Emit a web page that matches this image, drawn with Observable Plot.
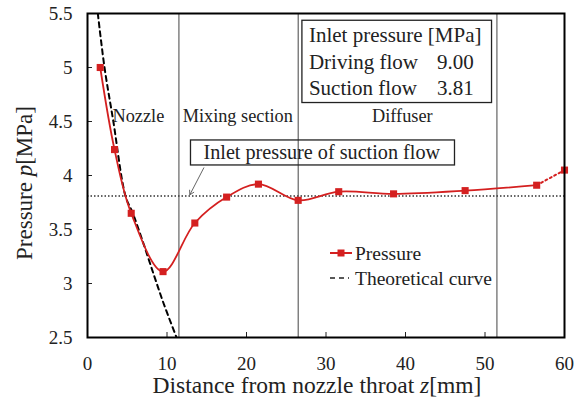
<!DOCTYPE html>
<html><head><meta charset="utf-8">
<script src="https://cdn.jsdelivr.net/npm/d3@7"></script>
<script src="https://cdn.jsdelivr.net/npm/@observablehq/plot@0.6"></script>
<style>body{margin:0;background:#fff} #chart{width:584px;height:398px}</style>
</head><body><div id="chart"></div>
<script>
// ---- data ----
const pressureZ = [1.6, 3.4, 5.5, 9.5, 13.5, 17.5, 21.5, 26.5, 31.6, 38.5, 47.5, 56.5];
const pressureP = [5.00, 4.24, 3.65, 3.11, 3.56, 3.80, 3.92, 3.77, 3.85, 3.83, 3.86, 3.91];
const extrapZ = [56.5, 60];
const extrapP = [3.91, 4.05];
const theoryZ = [1.3, 2.14, 3.23, 4.78, 5.7, 6.9, 8.3, 9.6, 11.2];
const theoryP = [5.5, 5.0, 4.51, 3.81, 3.65, 3.40, 3.09, 2.81, 2.5];
const xTicks = [0, 10, 20, 30, 40, 50, 60];
const yTicks = [2.5, 3, 3.5, 4, 4.5, 5, 5.5];
const yTickLabels = ["2.5", "3", "3.5", "4", "4.5", "5", "5.5"];
const sectionBounds = [11.5, 26.5, 51.5];
const sectionNames = ["Nozzle", "Mixing section", "Diffuser"];
const sectionLabelZ = [6.4, 18.9, 39.6];
const suctionInlet = 3.81;
const tableRows = ["Inlet pressure [MPa]", "Driving flow", "Suction flow"];
const tableValues = ["", "9.00", "3.81"];
const seriesNames = ["Pressure", "Theoretical curve"];

// ---- derived tables ----
const pressure = pressureZ.map((z, i) => ({z, p: pressureP[i]}));
const extrap = extrapZ.map((z, i) => ({z, p: extrapP[i]}));
const theory = theoryZ.map((z, i) => ({z, p: theoryP[i]}));

const red = "#d42020";
const font = "Liberation Serif";
const labelP = 4.545;
const tableZ = 27.85, tableValZ = 43.95;
const tableRowP = [5.296, 5.049, 4.812];

const plot = Plot.plot({
  width: 584, height: 398,
  marginLeft: 87, marginRight: 20, marginTop: 13, marginBottom: 61,
  style: {fontFamily: font, fontSize: "19px", color: "#222", background: "white", overflow: "visible"},
  x: {domain: [0, 60]},
  y: {domain: [2.5, 5.5]},
  marks: [
    Plot.ruleY([suctionInlet], {stroke: "#333", strokeWidth: 1.4, strokeDasharray: "1.5,2"}),
    Plot.ruleX(sectionBounds, {stroke: "#444", strokeWidth: 1}),
    Plot.line(theory, {x: "z", y: "p", stroke: "black", strokeWidth: 2, strokeDasharray: "5,4", curve: "catmull-rom", clip: true}),
    Plot.line(extrap, {x: "z", y: "p", stroke: red, strokeWidth: 2, strokeDasharray: "2,3"}),
    Plot.line(pressure, {x: "z", y: "p", stroke: red, strokeWidth: 1.8, curve: "catmull-rom"}),
    Plot.dot(pressure, {x: "z", y: "p", symbol: "square", r: 4, fill: red}),
    Plot.dot(extrap.slice(1), {x: "z", y: "p", symbol: "square", r: 4, fill: red}),
    Plot.text(sectionNames, {x: (d, i) => sectionLabelZ[i], y: labelP, text: d => d, fontSize: 18.3, fill: "#222"}),
    Plot.text(tableRows, {x: tableZ, y: (d, i) => tableRowP[i], text: d => d, textAnchor: "start", fontSize: 21, fill: "#222", className: "tbl"}),
    Plot.text(tableValues, {x: tableValZ, y: (d, i) => tableRowP[i], text: d => d, textAnchor: "start", fontSize: 21, fill: "#222", className: "tbl"}),
    Plot.text(["Inlet pressure of suction flow"], {x: 29.47, y: 4.213, text: d => d, fontSize: 20.2, fill: "#222", className: "sfl"}),
    Plot.arrow([0], {x1: 14.63, y1: 4.071, x2: 12.87, y2: 3.821, stroke: "#666", strokeWidth: 1, headLength: 7}),
    Plot.axisX(xTicks, {tickSize: -5, tickPadding: 24, label: null, fontSize: 19, tickFormat: d => String(d)}),
    Plot.axisY(yTicks, {tickSize: -5, tickPadding: 20, label: null, fontSize: 19, tickFormat: (d, i) => yTickLabels[i]}),
    Plot.frame({stroke: "black", strokeWidth: 2})
  ]
});
document.getElementById("chart").append(plot);

const svg = d3.select(plot);
function boxAround(nodes, pl, pr, pt, pb) {
  const o = plot.getBoundingClientRect();
  let x0 = Infinity, y0 = Infinity, x1 = -Infinity, y1 = -Infinity;
  nodes.forEach(n => { if (!n.textContent) return; const b = n.getBoundingClientRect(); if (b.width === 0) return;
    x0 = Math.min(x0, b.left - o.left); y0 = Math.min(y0, b.top - o.top);
    x1 = Math.max(x1, b.right - o.left); y1 = Math.max(y1, b.bottom - o.top); });
  svg.append("rect").attr("x", x0 - pl).attr("y", y0 - pt).attr("width", x1 - x0 + pl + pr).attr("height", y1 - y0 + pt + pb)
    .attr("fill", "none").attr("stroke", "#222").attr("stroke-width", 1.3);
}
boxAround(Array.from(plot.querySelectorAll("g.tbl text")), 7, 10, 3, 3);
boxAround(Array.from(plot.querySelectorAll("g.sfl text")), 13, 14, 1, 1);

// series legend
const lg = svg.append("g").attr("font-family", font).attr("font-size", 19.5).attr("fill", "#222").attr("text-anchor", "start");
lg.append("line").attr("x1", 330).attr("x2", 352).attr("y1", 253).attr("y2", 253).attr("stroke", red).attr("stroke-width", 2);
lg.append("rect").attr("x", 337.5).attr("y", 249.5).attr("width", 7).attr("height", 7).attr("fill", red);
lg.append("text").attr("x", 355).attr("y", 253).attr("dy", "0.35em").text(seriesNames[0]);
lg.append("line").attr("x1", 330).attr("x2", 349).attr("y1", 278).attr("y2", 278).attr("stroke", "#222").attr("stroke-width", 1.6).attr("stroke-dasharray", "5,4");
lg.append("text").attr("x", 355).attr("y", 278).attr("dy", "0.35em").text(seriesNames[1]);

// axis titles
const xt = svg.append("text").attr("x", 317).attr("y", 393).attr("text-anchor", "middle")
  .attr("font-family", font).attr("font-size", 23.5).attr("fill", "#222");
xt.append("tspan").text("Distance from nozzle throat ");
xt.append("tspan").attr("font-style", "italic").text("z");
xt.append("tspan").text("[mm]");
const yt = svg.append("text").attr("transform", "translate(32,183) rotate(-90)").attr("text-anchor", "middle")
  .attr("font-family", font).attr("font-size", 23).attr("fill", "#222");
yt.append("tspan").text("Pressure ");
yt.append("tspan").attr("font-style", "italic").text("p");
yt.append("tspan").text("[MPa]");
</script></body></html>
